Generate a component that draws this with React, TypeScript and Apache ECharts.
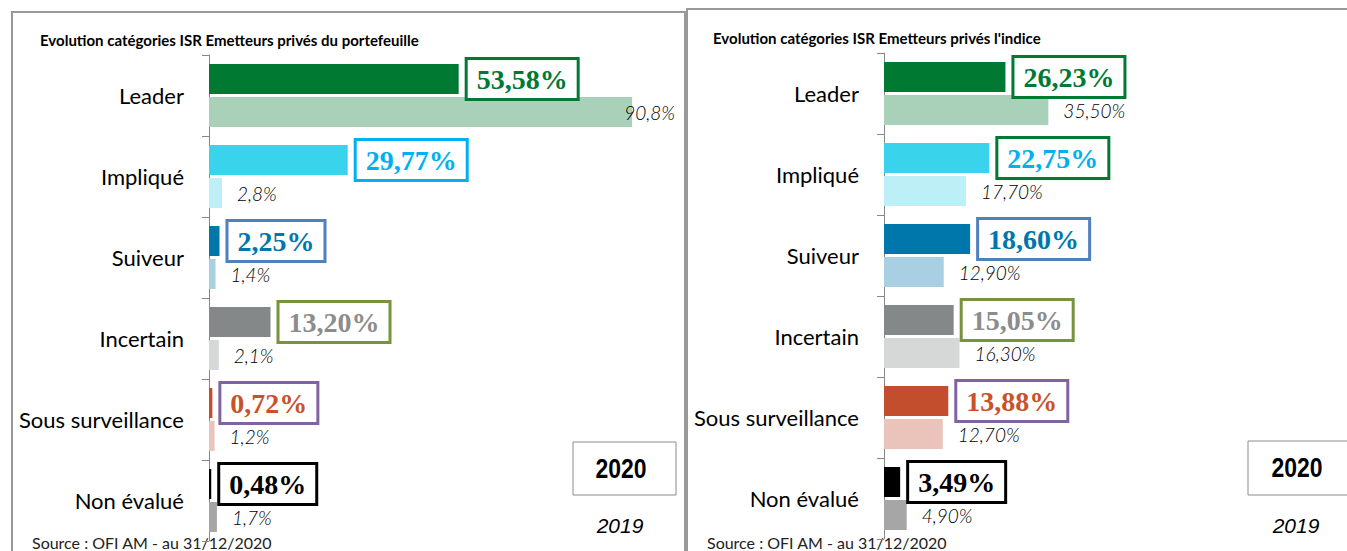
import React, { useEffect, useRef } from "react";
import * as echarts from "echarts";

const categories = ["Leader", "Impliqué", "Suiveur", "Incertain", "Sous surveillance", "Non évalué"];
const portfolio2020 = [53.58, 29.77, 2.25, 13.2, 0.72, 0.48];
const portfolio2019 = [90.8, 2.8, 1.4, 2.1, 1.2, 1.7];
const index2020 = [26.23, 22.75, 18.6, 15.05, 13.88, 3.49];
const index2019 = [35.5, 17.7, 12.9, 16.3, 12.7, 4.9];
const yearLabels = ["2020", "2019"];
const titles = [
  "Evolution catégories ISR Emetteurs privés du portefeuille",
  "Evolution catégories ISR Emetteurs privés l'indice",
];
const sourceText = "Source : OFI AM - au 31/12/2020";

const colors2020 = ["#007A33", "#3AD3EC", "#0077AA", "#858889", "#C24E2E", "#000000"];
const colors2019 = ["#A9D1B9", "#BDEFF7", "#A9CFE2", "#D6D7D7", "#EAC4BA", "#A6A6A6"];
const labelTextColors = ["#007A33", "#00B0F0", "#0077AA", "#8C8C8C", "#C8532B", "#000000"];
const borderColorsLeft = ["#007A33", "#00B0F0", "#4F81BD", "#77933C", "#8064A2", "#000000"];
const borderColorsRight = ["#007A33", "#007A33", "#4F81BD", "#77933C", "#8064A2", "#000000"];

const fmt = (v: number, d: number) => v.toFixed(d).replace(".", ",") + "%";

function makeSeries(gi: number, v20: number[], v19: number[], borders: string[], dec19: number) {
  return [
    {
      type: "bar",
      xAxisIndex: gi,
      yAxisIndex: gi,
      z: 3,
      barWidth: 30,
      barGap: "10%",
      data: v20.map((v, i) => ({
        value: v,
        itemStyle: { color: colors2020[i] },
        label: {
          show: true,
          position: "right",
          distance: 9,
          formatter: () => fmt(v, 2),
          fontFamily: "'Liberation Serif', serif",
          fontWeight: "bold",
          fontSize: 28,
          lineHeight: 30,
          color: labelTextColors[i],
          backgroundColor: "#ffffff",
          borderColor: borders[i],
          borderWidth: 3,
          padding: [4, 9, 4, 9],
        },
      })),
    },
    {
      type: "bar",
      xAxisIndex: gi,
      yAxisIndex: gi,
      z: 2,
      barWidth: 30,
      barGap: "10%",
      data: v19.map((v, i) => ({
        value: v,
        itemStyle: { color: colors2019[i] },
        label: {
          show: true,
          position: "right",
          distance: v > 80 ? -8 : 15,
          formatter: () => fmt(v, dec19),
          fontFamily: "Lato, sans-serif",
          fontStyle: "italic",
          fontWeight: 300,
          fontSize: 19,
          color: "#000000",
        },
      })),
    },
  ];
}

export default function App() {
  const ref = useRef<HTMLDivElement>(null);
  useEffect(() => {
    const chart = echarts.init(ref.current!, null, { renderer: "svg" });
    const yAxisBase = {
      type: "category",
      data: categories,
      inverse: true,
      axisLine: { show: true, lineStyle: { color: "#888888", width: 1 } },
      axisTick: { show: true, length: 7, lineStyle: { color: "#888888" } },
      axisLabel: { fontFamily: "Lato, sans-serif", fontSize: 22, color: "#000000", margin: 25 },
    };
    const textStyle = (extra: any) => ({
      textAlign: "center",
      textVerticalAlign: "middle",
      align: "center",
      verticalAlign: "middle",
      fill: "#000000",
      ...extra,
    });
    const leftText = (text: string, size: number, bold: boolean, color: string) => ({
      text,
      fontFamily: "Lato, sans-serif",
      fontWeight: bold ? "bold" : "normal",
      fontSize: size,
      fill: color,
      textVerticalAlign: "middle",
      verticalAlign: "middle",
    });
    chart.setOption({
      animation: false,
      backgroundColor: "#ffffff",
      grid: [
        { left: 209, top: 55, width: 466, height: 486 },
        { left: 884, top: 53, width: 463, height: 486 },
      ],
      xAxis: [
        { type: "value", gridIndex: 0, min: 0, max: 100, show: false },
        { type: "value", gridIndex: 1, min: 0, max: 100, show: false },
      ],
      yAxis: [
        { ...yAxisBase, gridIndex: 0 },
        { ...yAxisBase, gridIndex: 1 },
      ],
      series: [
        ...makeSeries(0, portfolio2020, portfolio2019, borderColorsLeft, 1),
        ...makeSeries(1, index2020, index2019, borderColorsRight, 2),
      ],
      graphic: [
        { type: "rect", z: 0, shape: { x: 12, y: 12, width: 673, height: 600 }, style: { fill: "none", stroke: "#999999", lineWidth: 2 } },
        { type: "rect", z: 0, shape: { x: 687, y: 9, width: 700, height: 600 }, style: { fill: "none", stroke: "#999999", lineWidth: 2 } },
        { type: "text", x: 40, y: 40, style: leftText(titles[0], 15, true, "#000") },
        { type: "text", x: 713, y: 38, style: leftText(titles[1], 15, true, "#000") },
        { type: "rect", shape: { x: 573, y: 442, width: 103, height: 53 }, style: { fill: "#fff", stroke: "#8C8C8C", lineWidth: 1 } },
        { type: "rect", shape: { x: 1248, y: 441, width: 110, height: 54 }, style: { fill: "#fff", stroke: "#8C8C8C", lineWidth: 1 } },
        { type: "text", x: 621, y: 468, scaleX: 0.82, style: textStyle({ text: yearLabels[0], fontFamily: "'Liberation Sans', sans-serif", fontWeight: "bold", fontSize: 28 }) },
        { type: "text", x: 1297, y: 467, scaleX: 0.82, style: textStyle({ text: yearLabels[0], fontFamily: "'Liberation Sans', sans-serif", fontWeight: "bold", fontSize: 28 }) },
        { type: "text", x: 620, y: 525, style: textStyle({ text: yearLabels[1], fontFamily: "'Liberation Sans', sans-serif", fontStyle: "italic", fontSize: 21 }) },
        { type: "text", x: 1296, y: 525, style: textStyle({ text: yearLabels[1], fontFamily: "'Liberation Sans', sans-serif", fontStyle: "italic", fontSize: 21 }) },
        { type: "text", x: 32, y: 542, style: leftText(sourceText, 16, false, "#222") },
        { type: "text", x: 707, y: 542, style: leftText(sourceText, 16, false, "#222") },
      ],
    });
    return () => chart.dispose();
  }, []);
  return <div ref={ref} style={{ position: "fixed", left: 0, top: 0, width: 1347, height: 551 }} />;
}
